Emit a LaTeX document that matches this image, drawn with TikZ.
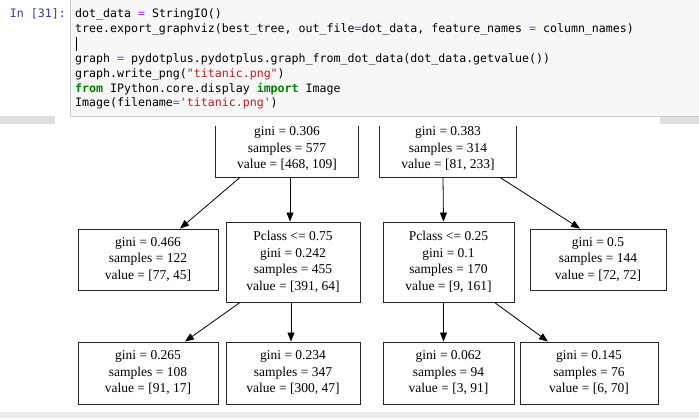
\documentclass[tikz,border=0pt]{standalone}
\usepackage{fontspec}
\setmainfont{Liberation Serif}
\newfontfamily\codefont{DejaVu Sans Mono}
\usetikzlibrary{arrows.meta}
\definecolor{kw}{HTML}{008000}
\definecolor{op}{HTML}{AA22FF}
\definecolor{st}{HTML}{BA2121}
\definecolor{prompt}{HTML}{303F9F}
\begin{document}
\begin{tikzpicture}[x=1pt,y=1pt,
  box/.style={draw=black!85,line width=0.9pt,align=center,font=\fontsize{13.5}{16.5}\selectfont,inner sep=0pt},
  topbox/.style={box,draw=none},
  edge/.style={line width=0.8pt,-{Triangle[length=9pt,width=7pt]}},
  code/.style={anchor=west,font=\codefont\fontsize{11.6}{12}\selectfont,inner sep=0pt}]
\useasboundingbox (0,0) rectangle (699,418);
\fill[white] (0,0) rectangle (699,418);
% tree boxes
\node[topbox,minimum width=142,minimum height=56] (r1) at (287,418-149) {gini = 0.306\\samples = 577\\value = [468, 109]};
\node[topbox,minimum width=136,minimum height=56] (r2) at (448,418-149) {gini = 0.383\\samples = 314\\value = [81, 233]};
\draw[black!85,line width=0.9pt] ([yshift=30pt]r1.north west) -- (r1.south west) -- (r1.south east) -- ([yshift=30pt]r1.north east);
\draw[black!85,line width=0.9pt] ([yshift=30pt]r2.north west) -- (r2.south west) -- (r2.south east) -- ([yshift=30pt]r2.north east);
\node[box,minimum width=140,minimum height=61] (a) at (148,418-259.5) {gini = 0.466\\samples = 122\\value = [77, 45]};
\node[box,minimum width=134,minimum height=80] (b) at (293,418-262) {Pclass <= 0.75\\gini = 0.242\\samples = 455\\value = [391, 64]};
\node[box,minimum width=131,minimum height=80] (c) at (448.5,418-262) {Pclass <= 0.25\\gini = 0.1\\samples = 170\\value = [9, 161]};
\node[box,minimum width=136,minimum height=61] (d) at (598,418-259.5) {gini = 0.5\\samples = 144\\value = [72, 72]};
\node[box,minimum width=140,minimum height=62] (e) at (148,418-373) {gini = 0.265\\samples = 108\\value = [91, 17]};
\node[box,minimum width=134,minimum height=62] (f) at (293,418-373) {gini = 0.234\\samples = 347\\value = [300, 47]};
\node[box,minimum width=131,minimum height=62] (g) at (448.5,418-373) {gini = 0.062\\samples = 94\\value = [3, 91]};
\node[box,minimum width=138,minimum height=62] (h) at (589,418-373) {gini = 0.145\\samples = 76\\value = [6, 70]};
\draw[edge] ([xshift=-47pt]r1.south) -- ([xshift=32pt]a.north);
\draw[edge] ([xshift=3pt]r1.south) -- ([xshift=-3pt]b.north);
\draw[edge] ([xshift=-5pt]r2.south) -- ([xshift=-5pt]c.north);
\draw[edge] ([xshift=52pt]r2.south) -- ([xshift=-18pt]d.north);
\draw[edge] ([xshift=-53pt]b.south) -- ([xshift=37pt]e.north);
\draw[edge] ([xshift=-2pt]b.south) -- ([xshift=-2pt]f.north);
\draw[edge] ([xshift=-5pt]c.south) -- ([xshift=-5pt]g.north);
\draw[edge] ([xshift=46pt]c.south) -- ([xshift=-41pt]h.north);
% shadow band
\fill[black!12] (0,418-124) rectangle (699,418-116);
\fill[white] (55,418-126) rectangle (660,418-116);
\fill[black!8] (0,0) rectangle (699,6);
% code cell
\fill[white] (0,418-116) rectangle (699,418);
\draw[draw=black!20,fill=black!3] (70,418-116) rectangle (700,419);
\node[code,text=prompt,anchor=east] (p) at (66,418-14) {In [31]:};
\node[code] (l1) at (75,418-14) {dot\_data \textcolor{op}{=} StringIO()};
\node[code] (l2) at (75,418-29) {tree.export\_graphviz(best\_tree, out\_file\textcolor{op}{=}dot\_data, feature\_names \textcolor{op}{=} column\_names)};
\draw[black] (76,418-37) -- (76,418-51);
\node[code] (l4) at (75,418-59) {graph \textcolor{op}{=} pydotplus.pydotplus.graph\_from\_dot\_data(dot\_data.getvalue())};
\node[code] (l5) at (75,418-74) {graph.write\_png(\textcolor{st}{"titanic.png"})};
\node[code] (l6) at (75,418-89) {\textcolor{kw}{\bfseries from} IPython.core.display \textcolor{kw}{\bfseries import} Image};
\node[code] (l7) at (75,418-103) {Image(filename\textcolor{op}{=}\textcolor{st}{'titanic.png'})};
\end{tikzpicture}
\end{document}
